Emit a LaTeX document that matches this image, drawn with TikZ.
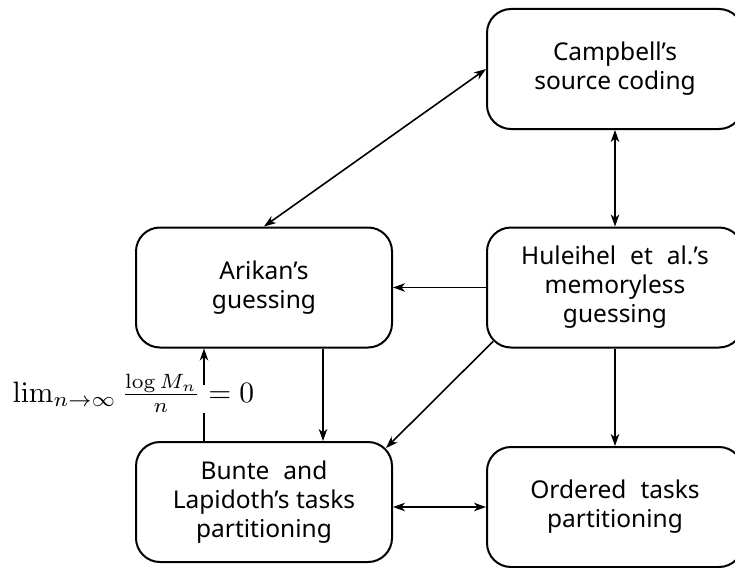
\documentclass[tikz,border=0pt]{standalone}
\usepackage[no-math]{fontspec}
\setmainfont{Noto Sans}
\usetikzlibrary{arrows.meta,calc}
\begin{document}
\begin{tikzpicture}[x=1pt,y=-1pt,
  box/.style={draw, line width=2pt, rounded corners=24pt, minimum width=256pt, minimum height=120pt, inner sep=0pt, align=center, font=\fontsize{24.5}{29}\selectfont},
  tip/.tip={Stealth[length=12pt,width=8.5pt,inset=3.5pt]},
  conn/.style={line width=1.6pt, -tip},
  both/.style={line width=1.6pt, tip-tip},
  plain/.style={line width=1.6pt}]
\useasboundingbox (0,0) rectangle (735,567);
\node[box] (camp) at (615,69) {Campbell’s\\source coding};
\node[box] (hul) at (615,287.5) {Huleihel\hspace{14pt}et\hspace{14pt}al.’s\\memoryless\\guessing};
\node[box] (ari) at (264,287.5) {Arikan’s\\guessing};
\node[box] (bun) at (264,502) {Bunte\hspace{14pt}and\\Lapidoth’s tasks\\partitioning};
\node[box] (ord) at (615,507) {Ordered\hspace{14pt}tasks\\partitioning};
\node[anchor=base west, inner sep=0pt, scale=2.95] (lim) at (12,402) {$\lim_{n\to\infty}\frac{\log M_n}{n}=0$};
\coordinate (gb) at (204,413);
\coordinate (gt) at (204,385);
\draw[both] (ari.north) -- (camp.west);
\draw[both] (camp.south) -- (hul.north);
\draw[conn] (hul.west) -- (ari.east);
\draw[conn] (hul.south) -- (ord.north);
\draw[conn] ($(hul.south west)+(7,-7)$) -- ($(bun.north east)+(-7,7)$);
\draw[conn] ([xshift=59pt]ari.south) -- ([xshift=59pt]bun.north);
\draw[plain] ([xshift=-60pt]bun.north) -- (gb);
\draw[conn] (gt) -- ([xshift=-60pt]ari.south);
\draw[both] (bun.east |- ord.west) -- (ord.west);
\end{tikzpicture}
\end{document}
